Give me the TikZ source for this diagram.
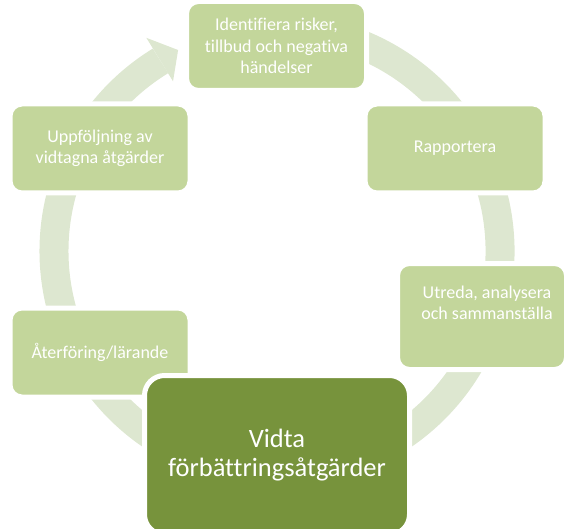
\documentclass[tikz,border=0pt]{standalone}
\usepackage{fontspec}
\setmainfont[Ligatures={NoCommon}]{Carlito}
\usetikzlibrary{calc}
\definecolor{boxgreen}{HTML}{C3D69B}
\definecolor{darkgreen}{HTML}{77933C}
\definecolor{ringgreen}{HTML}{DDE7D0}
\tikzset{
	x=1pt, y=1pt,
	stepnode/.style={rounded corners=12pt, fill=boxgreen, draw=white, line width=5pt,
		text=white, align=center, font=\fontsize{18}{21.5}\selectfont,
		minimum width=180pt, minimum height=89pt},
	mainnode/.style={stepnode, fill=darkgreen, rounded corners=20pt,
		minimum width=265pt, minimum height=159pt, font=\fontsize{26.5}{29}\selectfont},
	ring/.style={draw=ringgreen, line width=29pt}}

\begin{document}
\begin{tikzpicture}
	\useasboundingbox (0,0) rectangle (564,-529);
	\clip (0,0) rectangle (564,-529);
	\coordinate (c) at (277,-251);
	
	% ring with arrow into the first step
	\draw[ring] (c) ++(110:223) arc[start angle=110, end angle=-238.5, radius=223];
	\fill[ringgreen] ($(c)+(121.5:199)$) -- ($(c)+(116.2:224)$) -- ($(c)+(121.5:250)$) -- cycle;
	
	\node[stepnode] (ident) at (276.5,-46) {Identifiera risker,\\tillbud och negativa\\händelser};
	\node[stepnode] (rapp) at (455,-148.5) {Rapportera};
	\node[stepnode, minimum width=169pt, minimum height=106pt] (utreda) at (482,-316.5) {\hspace*{10pt}Utreda, analysera\\\hspace*{10pt}och sammanställa\\[6pt]};
	\node[stepnode] (uppf) at (100,-148.5) {Uppföljning av\\vidtagna åtgärder};
	\node[stepnode] (ater) at (100,-352.5) {Återföring/lärande};
	\node[mainnode] (vidta) at (277,-455) {Vidta\\förbättringsåtgärder};
\end{tikzpicture}
\end{document}
